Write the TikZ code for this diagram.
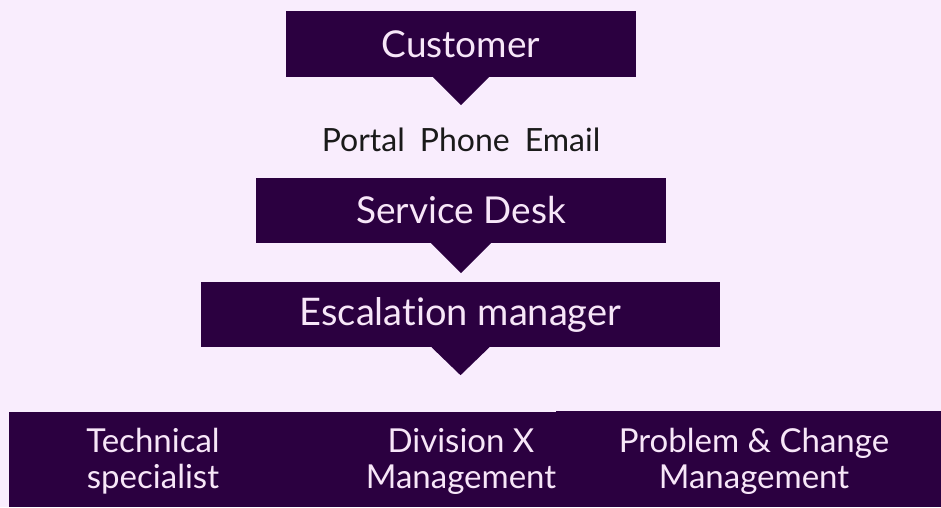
\documentclass[tikz,border=0pt]{standalone}
\usepackage{fontspec}
\setmainfont{Lato}[Ligatures=NoCommon]
\usepackage{xcolor}
\definecolor{pagebg}{HTML}{F9EDFD}
\definecolor{boxpurple}{HTML}{2B0040}
\definecolor{boxtext}{HTML}{F7E6F8}
\definecolor{plaintext}{HTML}{1A1A1A}

\begin{document}
\begin{tikzpicture}[x=1pt,y=-1pt,
		box/.style={fill=boxpurple, draw=none, inner sep=0pt},
		boxlabel/.style={text=boxtext, align=center, inner sep=0pt},
		pointer/.style={fill=boxpurple}
	]
	% Background and page size
	\fill[pagebg] (0,0) rectangle (941,507);
	\useasboundingbox (0,0) rectangle (941,507);

	% Draw the boxes
	\node[box, minimum width=350pt, minimum height=66pt] (cust) at (461,44) {};
	\node[box, minimum width=410pt, minimum height=65pt] (desk) at (461,210.5) {};
	\node[box, minimum width=519pt, minimum height=65pt] (esc) at (460.5,314.5) {};
	\node[box, minimum width=547pt, minimum height=95pt] (teams) at (282.5,459.5) {};
	\node[box, minimum width=385pt, minimum height=96pt] (probs) at (748.5,459) {};

	% Pointers under the boxes
	\fill[pointer] ([xshift=-28pt]cust.south) -- ([xshift=28pt]cust.south) -- ([yshift=-28pt]cust.south) -- cycle;
	\fill[pointer] ([xshift=-30pt]desk.south) -- ([xshift=30pt]desk.south) -- ([yshift=-30pt]desk.south) -- cycle;
	\fill[pointer] ([xshift=-29pt]esc.south) -- ([xshift=29pt]esc.south) -- ([yshift=-28pt]esc.south) -- cycle;

	% Label the boxes
	\node[boxlabel, font=\fontsize{37}{44}\selectfont] (custtext) at (cust) {Customer};
	\node[boxlabel, font=\fontsize{37}{44}\selectfont] (desktext) at (desk) {Service Desk};
	\node[boxlabel, font=\fontsize{38}{44}\selectfont] (esctext) at (esc) {Escalation manager};
	\node[boxlabel, font=\fontsize{33}{36}\selectfont] (techtext) at (153,461) {Technical\\specialist};
	\node[boxlabel, font=\fontsize{33}{36}\selectfont] (divtext) at (461,461) {Division X\\Management};
	\node[boxlabel, font=\fontsize{33}{36}\selectfont] (probtext) at (754,461) {Problem \& Change\\Management};

	% Contact channels
	\node[text=plaintext, inner sep=0pt, font=\fontsize{32}{38}\selectfont] (channels) at (461,140)
		{Portal\hspace{15pt}Phone\hspace{15pt}Email};
\end{tikzpicture}
\end{document}
